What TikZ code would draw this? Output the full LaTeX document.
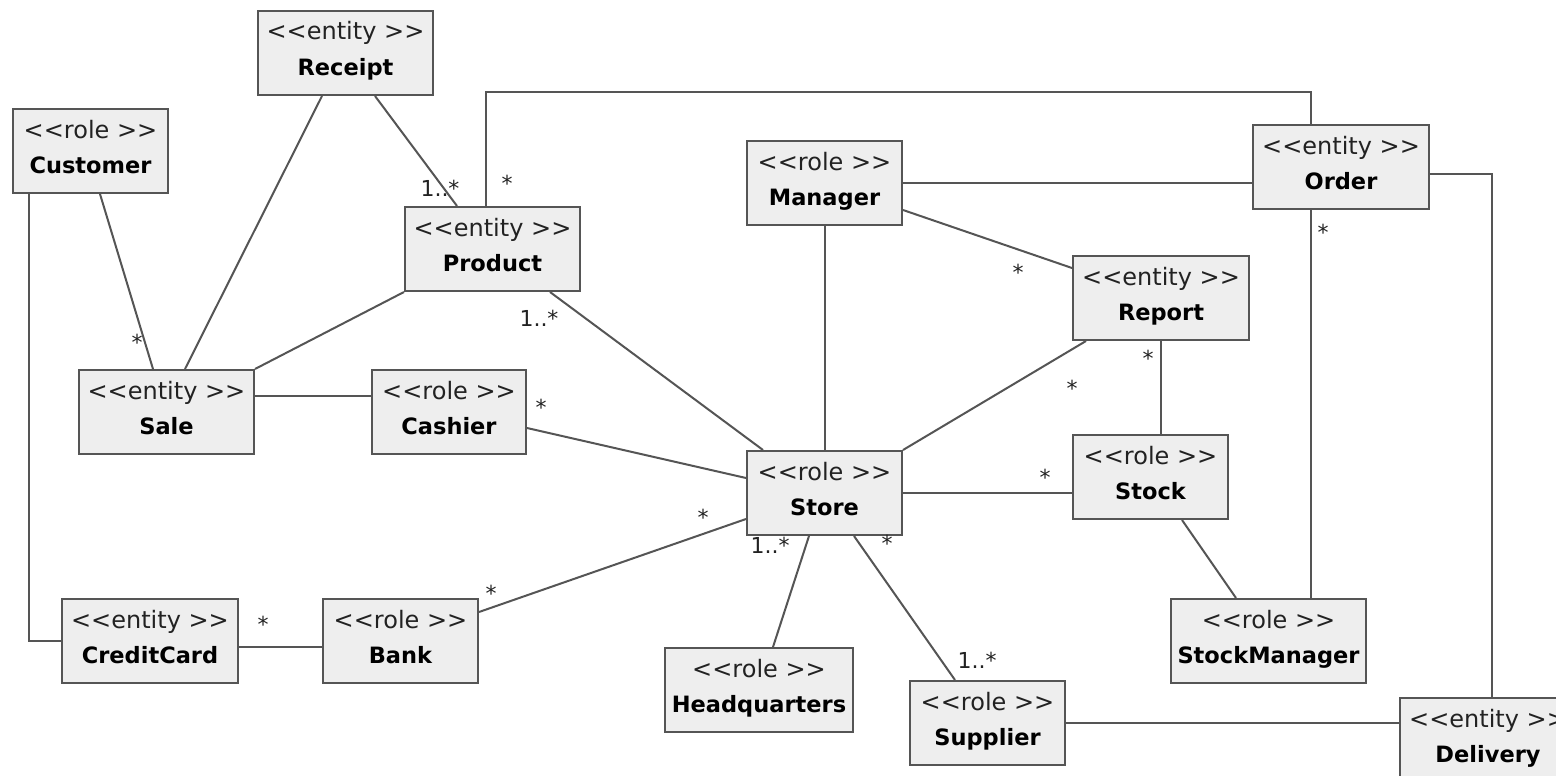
\documentclass[tikz,border=0pt]{standalone}
\usepackage{fontspec}
\newfontfamily\umlfont{DejaVu Sans}
\definecolor{boxfill}{HTML}{EEEEEE}
\definecolor{edge}{HTML}{555555}
\definecolor{stereotxt}{HTML}{222222}

% class box: name, centre x, top y, width, stereotype, class name
\newcommand\umlclass[6]{%
  \node[umlbox, minimum width=#4pt] (#1) at (#2, #3+42) {};
  \node[stereo, anchor=base] (#1-st) at (#2, #3+29) {<<#5 >>};
  \node[title, anchor=base] (#1-nm) at (#2, #3+64) {#6};
}

\begin{document}
\begin{tikzpicture}[x=1pt,y=-1pt,
  umlbox/.style={draw=edge, line width=2pt, fill=boxfill, rectangle,
    minimum height=84pt, inner sep=0pt},
  stereo/.style={font=\umlfont\fontsize{24}{27}\selectfont, text=stereotxt, inner sep=0pt},
  title/.style={font=\umlfont\bfseries\fontsize{22.5}{27}\selectfont, text=black, inner sep=0pt},
  mult/.style={font=\umlfont\fontsize{22}{25}\selectfont, text=stereotxt, inner sep=0pt},
  assoc/.style={draw=edge, line width=2pt}]

\useasboundingbox (0,0) rectangle (1556,776);
\clip (0,0) rectangle (1556,776);

% classes
\umlclass{receipt}{345.5}{11}{175}{entity}{Receipt}
\umlclass{customer}{90.5}{109}{155}{role}{Customer}
\umlclass{product}{492.5}{207}{175}{entity}{Product}
\umlclass{manager}{824.5}{141}{155}{role}{Manager}
\umlclass{order}{1341}{125}{176}{entity}{Order}
\umlclass{report}{1161}{256}{176}{entity}{Report}
\umlclass{sale}{166.5}{370}{175}{entity}{Sale}
\umlclass{cashier}{449}{370}{154}{role}{Cashier}
\umlclass{store}{824.5}{451}{155}{role}{Store}
\umlclass{stock}{1150.5}{435}{155}{role}{Stock}
\umlclass{creditcard}{150}{599}{176}{entity}{CreditCard}
\umlclass{bank}{400.5}{599}{155}{role}{Bank}
\umlclass{hq}{759}{648}{188}{role}{Headquarters}
\umlclass{stockmgr}{1268.5}{599}{195}{role}{StockManager}
\umlclass{supplier}{987.5}{681}{155}{role}{Supplier}
\umlclass{delivery}{1488}{698}{176}{entity}{Delivery}

% helper points
\coordinate (pOrd) at ([xshift=82pt]product.north west);
\coordinate (oProd) at ([xshift=59pt]order.north west);
\coordinate (topline) at (0,92);
\coordinate (oDown) at ([xshift=59pt]order.south west);
\coordinate (ccBank) at ([yshift=-6pt]creditcard.east);

% associations
\draw[assoc] ([xshift=65pt]receipt.south west) -- ([xshift=107pt]sale.north west);
\draw[assoc] ([xshift=118pt]receipt.south west) -- ([xshift=53pt]product.north west);
\draw[assoc] (pOrd) -- (pOrd |- topline) -| (oProd);
\draw[assoc] ([xshift=88pt]customer.south west) -- ([xshift=75pt]sale.north west);
\draw[assoc] ([xshift=17pt]customer.south west) |- (creditcard.west);
\draw[assoc] (product.south west) -- (sale.north east);
\draw[assoc] ([yshift=16pt]sale.east) -- ([yshift=16pt]cashier.west);
\draw[assoc] ([yshift=-16pt]cashier.east) -- ([yshift=15pt]store.west);
\draw[assoc] ([xshift=146pt]product.south west) -- ([xshift=17pt]store.north west);
\draw[assoc] (manager.south) -- (store.north);
\draw[assoc] (manager.east) -- (manager.east -| order.west);
\draw[assoc] ([yshift=-27pt]manager.east) -- ([yshift=30pt]report.west);
\draw[assoc] ([xshift=14pt]report.south west) -- (store.north east);
\draw[assoc] (report.south) -- (report.south |- stock.north);
\draw[assoc] (store.east) -- (store.east -| stock.west);
\draw[assoc] ([xshift=110pt]stock.south west) -- ([xshift=66pt]stockmgr.north west);
\draw[assoc] (oDown) -- (oDown |- stockmgr.north);
\draw[assoc] ([yshift=-7pt]order.east) -| ([xshift=4pt]delivery.north);
\draw[assoc] (supplier.east) -- (supplier.east -| delivery.west);
\draw[assoc] ([xshift=63pt]store.south west) -- ([xshift=109pt]hq.north west);
\draw[assoc] ([xshift=108pt]store.south west) -- ([xshift=46pt]supplier.north west);
\draw[assoc] ([yshift=-14pt]bank.north east) -- ([yshift=17pt]store.south west);
\draw[assoc] (ccBank) -- (ccBank -| bank.west);

% multiplicities
\node[mult] (m-rp) at (440,188) {1..*};
\node[mult] (m-po) at (507,183) {*};
\node[mult] (m-cs) at (137,342) {*};
\node[mult] (m-ps) at (539,318) {1..*};
\node[mult] (m-cst) at (541,407) {*};
\node[mult] (m-mr) at (1018,272) {*};
\node[mult] (m-rs) at (1072,388) {*};
\node[mult] (m-rk) at (1148,358) {*};
\node[mult] (m-om) at (1323,232) {*};
\node[mult] (m-sk) at (1045,477) {*};
\node[mult] (m-bs) at (703,517) {*};
\node[mult] (m-sh) at (770,545) {1..*};
\node[mult] (m-ss) at (887,543) {*};
\node[mult] (m-su) at (977,660) {1..*};
\node[mult] (m-bk) at (491,593) {*};
\node[mult] (m-cc) at (263,624) {*};
\end{tikzpicture}
\end{document}
